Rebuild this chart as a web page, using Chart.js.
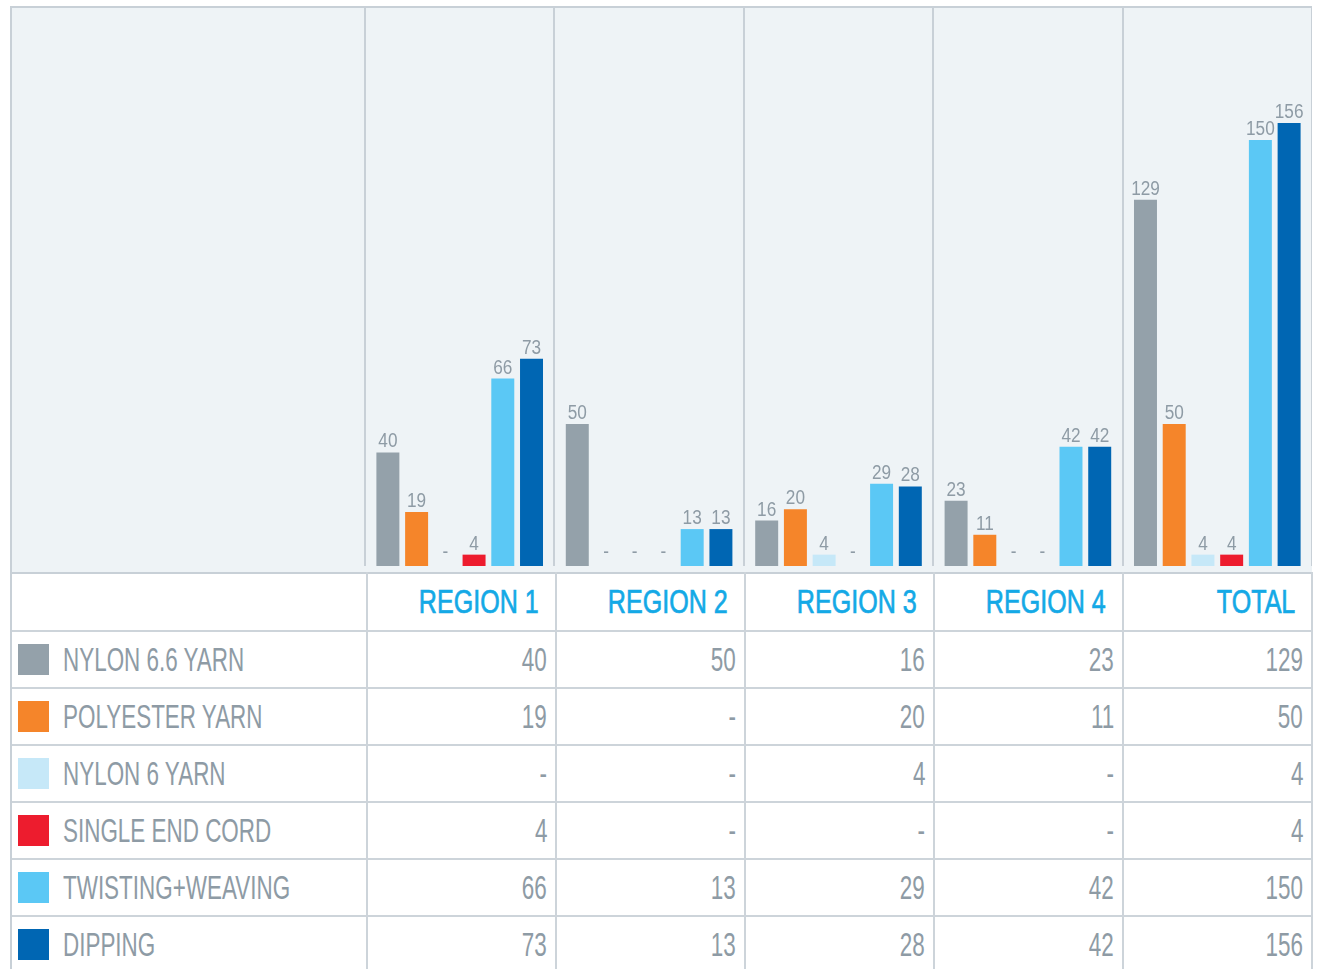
<!DOCTYPE html>
<html>
<head>
<meta charset="utf-8">
<script src="https://cdn.jsdelivr.net/npm/chart.js@4.4.0/dist/chart.umd.min.js"></script>
<style>
  body { margin: 0; background: #fff; font-family: "Liberation Sans", Arial, sans-serif; }
  #wrap { position: absolute; left: 10px; top: 6px; width: 1300px; border-top: 2px solid #c8d0d7; border-left: 2px solid #c8d0d7; }
  #chartBox { position: relative; width: 1300px; height: 564px; background: #eef3f6; }
  table { border-collapse: collapse; width: 1300px; table-layout: fixed; }
  td { border: 2px solid #cdd4da; height: 55px; padding: 0 8px; font-size: 33px; color: #8e9ba5; text-align: right; white-space: nowrap; }
  td:first-child { text-align: left; border-left: none; padding-left: 4px; }
  tr.head td { height: 56px; color: #14a9e6; padding-right: 16px; border-top: 2px solid #c8d0d7; -webkit-text-stroke: 0.7px #14a9e6; }
  tr:last-child td { border-bottom: none; }
  .t { display: inline-block; transform: scaleX(0.68); transform-origin: right center; }
  .lab { display: inline-block; transform: scaleX(0.68); transform-origin: left center; }
  tr.head .t { transform: scaleX(0.76); }
  .sw { display: inline-block; width: 31px; height: 31px; vertical-align: middle; margin: 0 14px 0 2px; position: relative; top: -2px; }
</style>
</head>
<body>
<div id="wrap">
  <div id="chartBox"><canvas id="c"></canvas></div>
  <table id="tbl"></table>
</div>
<script>
// Data
const categories = ['REGION 1', 'REGION 2', 'REGION 3', 'REGION 4', 'TOTAL'];
const seriesNames = ['NYLON 6.6 YARN', 'POLYESTER YARN', 'NYLON 6 YARN', 'SINGLE END CORD', 'TWISTING+WEAVING', 'DIPPING'];
const nylon66 = [40, 50, 16, 23, 129];
const polyester = [19, 0, 20, 11, 50];
const nylon6 = [0, 0, 4, 0, 4];
const singleEnd = [4, 0, 0, 0, 4];
const twisting = [66, 13, 29, 42, 150];
const dipping = [73, 13, 28, 42, 156];
const seriesColors = ['#94a1aa', '#f5852a', '#c6e8f8', '#ed1c2e', '#5bc8f5', '#0066b3'];

const allSeries = [nylon66, polyester, nylon6, singleEnd, twisting, dipping];
const labelColor = '#8e9ba5';

// values above bars, dash for empty ones
const valueLabels = {
  id: 'valueLabels',
  afterDatasetsDraw(chart) {
    const ctx = chart.ctx;
    const base = chart.scales.y.getPixelForValue(0);
    ctx.save();
    ctx.fillStyle = labelColor;
    ctx.font = '20px "Liberation Sans", Arial, sans-serif';
    ctx.textAlign = 'center';
    ctx.textBaseline = 'alphabetic';
    chart.data.datasets.forEach((ds, i) => {
      chart.getDatasetMeta(i).data.forEach((bar, j) => {
        const v = ds.data[j];
        const txt = v === 0 ? '-' : String(v);
        const y = v === 0 ? base - 8 : bar.y - 5;
        ctx.save();
        ctx.translate(bar.x, y);
        ctx.scale(0.86, 1);
        ctx.fillText(txt, 0, 0);
        ctx.restore();
      });
    });
    ctx.restore();
  }
};

new Chart(document.getElementById('c'), {
  type: 'bar',
  data: {
    labels: categories,
    datasets: allSeries.map((d, i) => ({
      label: seriesNames[i],
      data: d,
      backgroundColor: seriesColors[i],
      categoryPercentage: 0.91,
      barPercentage: 0.8
    }))
  },
  options: {
    responsive: true,
    maintainAspectRatio: false,
    animation: false,
    layout: { padding: { left: 353, right: 0, top: 0, bottom: 6 } },
    plugins: { legend: { display: false }, tooltip: { enabled: false } },
    scales: {
      x: {
        grid: { offset: true, color: '#c8d0d7', lineWidth: 2, drawTicks: false },
        border: { display: false },
        ticks: { display: false }
      },
      y: { display: false, min: 0, max: 196.5 }
    }
  },
  plugins: [valueLabels]
});

// table below the chart
const tbl = document.getElementById('tbl');
let html = '<colgroup><col style="width:355px">' + categories.map(() => '<col style="width:189px">').join('') + '</colgroup>';
html += '<tr class="head"><td></td>' + categories.map(c => '<td><span class="t">' + c + '</span></td>').join('') + '</tr>';
allSeries.forEach((d, i) => {
  html += '<tr><td><span class="sw" style="background:' + seriesColors[i] + '"></span><span class="lab">' + seriesNames[i] + '</span></td>' +
    d.map(v => '<td><span class="t">' + (v === 0 ? '-' : v) + '</span></td>').join('') + '</tr>';
});
tbl.innerHTML = html;
</script>
</body>
</html>
